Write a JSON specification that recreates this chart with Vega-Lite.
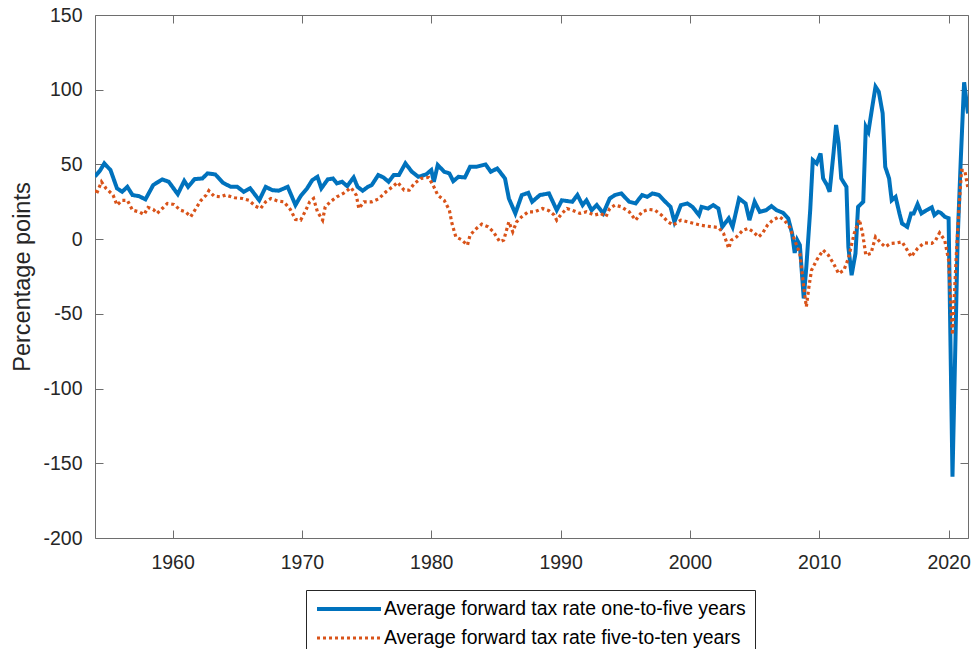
{
"$schema": "https://vega.github.io/schema/vega-lite/v6.json",
"width": 873, "height": 523,
"autosize": {"type": "none"},
"padding": {"left": 95, "top": 15, "right": 6, "bottom": 111},
"background": "white",
"config": {
  "view": {"stroke": null},
  "font": "Liberation Sans",
  "axis": {"labelFont": "Liberation Sans", "labelFontSize": 19.5, "labelColor": "#262626", "domainColor": "#6e6e6e", "tickColor": "#6e6e6e", "domainWidth": 1, "tickWidth": 1, "grid": false, "titleFont": "Liberation Sans", "titleFontWeight": "normal", "titleColor": "#262626"},
  "legend": {"orient": "none", "legendX": 211, "legendY": 575, "direction": "vertical", "title": null, "strokeColor": "#262626", "fillColor": "white", "padding": 9, "rowPadding": 9, "labelFont": "Liberation Sans", "labelFontSize": 19.4, "labelColor": "#000000", "labelOffset": 25, "labelLimit": 0, "symbolType": "M-4,0H4", "symbolSize": 256, "symbolOffset": 24, "symbolStrokeWidth": 4}
},
"data": {"values": [
{"t":1954.0,"k":"a","v":42},{"t":1954.4,"k":"a","v":46},{"t":1954.72,"k":"a","v":50.7},{"t":1955.2,"k":"a","v":46.2},{"t":1955.7,"k":"a","v":34},{"t":1956.1,"k":"a","v":31.7},{"t":1956.5,"k":"a","v":35},{"t":1956.9,"k":"a","v":29.5},{"t":1957.4,"k":"a","v":28.8},{"t":1957.9,"k":"a","v":26.6},{"t":1958.5,"k":"a","v":36.2},{"t":1959.2,"k":"a","v":40},{"t":1959.7,"k":"a","v":38.4},{"t":1960.4,"k":"a","v":30.1},{"t":1960.9,"k":"a","v":39},{"t":1961.2,"k":"a","v":35},{"t":1961.7,"k":"a","v":40.2},{"t":1962.3,"k":"a","v":40.6},{"t":1962.7,"k":"a","v":44},{"t":1963.3,"k":"a","v":43.3},{"t":1963.9,"k":"a","v":37.7},{"t":1964.5,"k":"a","v":35},{"t":1965.0,"k":"a","v":35},{"t":1965.5,"k":"a","v":31.7},{"t":1966.0,"k":"a","v":34},{"t":1966.7,"k":"a","v":26},{"t":1967.2,"k":"a","v":35},{"t":1967.7,"k":"a","v":32.8},{"t":1968.2,"k":"a","v":32.4},{"t":1968.9,"k":"a","v":35},{"t":1969.5,"k":"a","v":22.8},{"t":1969.9,"k":"a","v":28.8},{"t":1970.4,"k":"a","v":34},{"t":1970.8,"k":"a","v":39.5},{"t":1971.2,"k":"a","v":41.7},{"t":1971.5,"k":"a","v":34},{"t":1972.0,"k":"a","v":40},{"t":1972.4,"k":"a","v":40.6},{"t":1972.7,"k":"a","v":37.3},{"t":1973.1,"k":"a","v":38.4},{"t":1973.5,"k":"a","v":35.5},{"t":1974.0,"k":"a","v":41.3},{"t":1974.3,"k":"a","v":35},{"t":1974.7,"k":"a","v":32.4},{"t":1975.1,"k":"a","v":35},{"t":1975.4,"k":"a","v":36.2},{"t":1975.9,"k":"a","v":42.9},{"t":1976.3,"k":"a","v":41.3},{"t":1976.7,"k":"a","v":38.4},{"t":1977.1,"k":"a","v":42.9},{"t":1977.5,"k":"a","v":42.9},{"t":1978.0,"k":"a","v":50.7},{"t":1978.5,"k":"a","v":45.1},{"t":1979.0,"k":"a","v":41.7},{"t":1979.6,"k":"a","v":43.3},{"t":1980.0,"k":"a","v":46.2},{"t":1980.2,"k":"a","v":38.4},{"t":1980.5,"k":"a","v":49.6},{"t":1981.0,"k":"a","v":45.1},{"t":1981.4,"k":"a","v":44},{"t":1981.7,"k":"a","v":38.8},{"t":1982.1,"k":"a","v":41.7},{"t":1982.6,"k":"a","v":41.3},{"t":1983.0,"k":"a","v":48.4},{"t":1983.5,"k":"a","v":48.4},{"t":1984.2,"k":"a","v":50},{"t":1984.6,"k":"a","v":45.1},{"t":1985.1,"k":"a","v":47.3},{"t":1985.4,"k":"a","v":44},{"t":1985.7,"k":"a","v":40.6},{"t":1986.0,"k":"a","v":27.2},{"t":1986.5,"k":"a","v":17.2},{"t":1987.0,"k":"a","v":29.5},{"t":1987.5,"k":"a","v":31},{"t":1987.8,"k":"a","v":25},{"t":1988.4,"k":"a","v":29.5},{"t":1989.1,"k":"a","v":30.6},{"t":1989.7,"k":"a","v":19.4},{"t":1990.1,"k":"a","v":26},{"t":1990.9,"k":"a","v":25},{"t":1991.3,"k":"a","v":29.5},{"t":1991.7,"k":"a","v":22.8},{"t":1992.0,"k":"a","v":26},{"t":1992.4,"k":"a","v":19.4},{"t":1992.8,"k":"a","v":22.8},{"t":1993.3,"k":"a","v":17.2},{"t":1993.8,"k":"a","v":27.2},{"t":1994.2,"k":"a","v":29.5},{"t":1994.7,"k":"a","v":30.6},{"t":1995.3,"k":"a","v":25},{"t":1995.8,"k":"a","v":23.9},{"t":1996.3,"k":"a","v":29.5},{"t":1996.7,"k":"a","v":28.3},{"t":1997.1,"k":"a","v":30.6},{"t":1997.6,"k":"a","v":29.5},{"t":1998.1,"k":"a","v":25},{"t":1998.5,"k":"a","v":21.6},{"t":1998.8,"k":"a","v":11.6},{"t":1999.3,"k":"a","v":22.8},{"t":1999.8,"k":"a","v":23.9},{"t":2000.2,"k":"a","v":21.6},{"t":2000.7,"k":"a","v":16.1},{"t":2000.9,"k":"a","v":21.6},{"t":2001.4,"k":"a","v":20.5},{"t":2001.8,"k":"a","v":22.8},{"t":2002.2,"k":"a","v":20.5},{"t":2002.5,"k":"a","v":8.2},{"t":2003.0,"k":"a","v":13.9},{"t":2003.3,"k":"a","v":8.2},{"t":2003.8,"k":"a","v":27.2},{"t":2004.3,"k":"a","v":23.9},{"t":2004.6,"k":"a","v":12.7},{"t":2005.0,"k":"a","v":25},{"t":2005.4,"k":"a","v":18.3},{"t":2005.9,"k":"a","v":19.4},{"t":2006.3,"k":"a","v":22.1},{"t":2006.7,"k":"a","v":19.4},{"t":2007.2,"k":"a","v":17.6},{"t":2007.6,"k":"a","v":13.9},{"t":2007.9,"k":"a","v":3.8},{"t":2008.1,"k":"a","v":-9.2},{"t":2008.3,"k":"a","v":-0.7},{"t":2008.5,"k":"a","v":-4},{"t":2008.8,"k":"a","v":-39.7},{"t":2009.0,"k":"a","v":-18.5},{"t":2009.3,"k":"a","v":19.4},{"t":2009.5,"k":"a","v":52.9},{"t":2009.8,"k":"a","v":50.7},{"t":2010.1,"k":"a","v":57.4},{"t":2010.3,"k":"a","v":40.6},{"t":2010.6,"k":"a","v":36.2},{"t":2010.8,"k":"a","v":31.7},{"t":2011.1,"k":"a","v":57.4},{"t":2011.3,"k":"a","v":76.4},{"t":2011.5,"k":"a","v":64.1},{"t":2011.7,"k":"a","v":40.6},{"t":2012.1,"k":"a","v":35},{"t":2012.25,"k":"a","v":-5.2},{"t":2012.5,"k":"a","v":-24.1},{"t":2012.8,"k":"a","v":-9.6},{"t":2013.0,"k":"a","v":21.6},{"t":2013.4,"k":"a","v":25},{"t":2013.6,"k":"a","v":75.2},{"t":2013.8,"k":"a","v":71.9},{"t":2014.1,"k":"a","v":88.6},{"t":2014.35,"k":"a","v":102},{"t":2014.6,"k":"a","v":98.7},{"t":2014.9,"k":"a","v":84.2},{"t":2015.1,"k":"a","v":48.4},{"t":2015.4,"k":"a","v":40.6},{"t":2015.6,"k":"a","v":26},{"t":2015.9,"k":"a","v":28.3},{"t":2016.2,"k":"a","v":17.2},{"t":2016.4,"k":"a","v":10.5},{"t":2016.8,"k":"a","v":8.2},{"t":2017.1,"k":"a","v":17.2},{"t":2017.3,"k":"a","v":17.2},{"t":2017.6,"k":"a","v":23.4},{"t":2017.9,"k":"a","v":17.2},{"t":2018.3,"k":"a","v":19.4},{"t":2018.7,"k":"a","v":21.2},{"t":2018.9,"k":"a","v":16.1},{"t":2019.2,"k":"a","v":18.3},{"t":2019.4,"k":"a","v":17.6},{"t":2019.7,"k":"a","v":15},{"t":2020.0,"k":"a","v":14},{"t":2020.3,"k":"a","v":-159},{"t":2020.55,"k":"a","v":-60},{"t":2020.7,"k":"a","v":0},{"t":2020.95,"k":"a","v":55},{"t":2021.2,"k":"a","v":105},{"t":2021.5,"k":"a","v":84},
{"t":1954.0,"k":"b","v":33},{"t":1954.1,"k":"b","v":30},{"t":1954.5,"k":"b","v":38.4},{"t":1954.85,"k":"b","v":34},{"t":1955.4,"k":"b","v":29.5},{"t":1955.7,"k":"b","v":22.8},{"t":1956.1,"k":"b","v":26},{"t":1956.5,"k":"b","v":26},{"t":1956.9,"k":"b","v":19.4},{"t":1957.4,"k":"b","v":18.3},{"t":1957.8,"k":"b","v":16.5},{"t":1958.1,"k":"b","v":21.2},{"t":1958.5,"k":"b","v":19.9},{"t":1958.8,"k":"b","v":17.2},{"t":1959.2,"k":"b","v":20.5},{"t":1959.6,"k":"b","v":23.9},{"t":1960.1,"k":"b","v":23.2},{"t":1960.6,"k":"b","v":19.4},{"t":1961.0,"k":"b","v":18.3},{"t":1961.4,"k":"b","v":15},{"t":1961.8,"k":"b","v":20.5},{"t":1962.2,"k":"b","v":26},{"t":1962.6,"k":"b","v":29.5},{"t":1962.8,"k":"b","v":32.4},{"t":1963.2,"k":"b","v":28.8},{"t":1963.7,"k":"b","v":28.3},{"t":1964.1,"k":"b","v":29.5},{"t":1964.8,"k":"b","v":27.7},{"t":1965.4,"k":"b","v":27.2},{"t":1965.9,"k":"b","v":26},{"t":1966.4,"k":"b","v":22.1},{"t":1966.8,"k":"b","v":20.5},{"t":1967.2,"k":"b","v":25},{"t":1967.6,"k":"b","v":27.2},{"t":1968.1,"k":"b","v":25.6},{"t":1968.6,"k":"b","v":25},{"t":1969.1,"k":"b","v":19.9},{"t":1969.5,"k":"b","v":13.2},{"t":1969.9,"k":"b","v":12.7},{"t":1970.3,"k":"b","v":19.4},{"t":1970.6,"k":"b","v":25},{"t":1970.9,"k":"b","v":27.2},{"t":1971.2,"k":"b","v":18.3},{"t":1971.6,"k":"b","v":12.7},{"t":1971.8,"k":"b","v":21.6},{"t":1972.2,"k":"b","v":25},{"t":1972.7,"k":"b","v":28.3},{"t":1973.2,"k":"b","v":30.6},{"t":1973.8,"k":"b","v":34.4},{"t":1974.2,"k":"b","v":29.5},{"t":1974.4,"k":"b","v":20.5},{"t":1974.8,"k":"b","v":25},{"t":1975.4,"k":"b","v":25},{"t":1975.9,"k":"b","v":26.8},{"t":1976.5,"k":"b","v":31.7},{"t":1977.0,"k":"b","v":35},{"t":1977.4,"k":"b","v":38},{"t":1977.9,"k":"b","v":32.8},{"t":1978.3,"k":"b","v":32.8},{"t":1978.7,"k":"b","v":37.3},{"t":1979.2,"k":"b","v":40.6},{"t":1979.8,"k":"b","v":41.3},{"t":1980.2,"k":"b","v":35},{"t":1980.5,"k":"b","v":29.5},{"t":1981.0,"k":"b","v":26},{"t":1981.4,"k":"b","v":19.4},{"t":1981.6,"k":"b","v":10.5},{"t":1981.9,"k":"b","v":1.5},{"t":1982.3,"k":"b","v":-0.2},{"t":1982.8,"k":"b","v":-4},{"t":1983.0,"k":"b","v":2.7},{"t":1983.5,"k":"b","v":7.2},{"t":1983.9,"k":"b","v":10},{"t":1984.4,"k":"b","v":8.2},{"t":1984.8,"k":"b","v":4.9},{"t":1985.3,"k":"b","v":-1.8},{"t":1985.6,"k":"b","v":-0.7},{"t":1986.0,"k":"b","v":11.6},{"t":1986.3,"k":"b","v":4.9},{"t":1986.6,"k":"b","v":11.6},{"t":1987.0,"k":"b","v":15},{"t":1987.5,"k":"b","v":18.3},{"t":1988.0,"k":"b","v":18.3},{"t":1988.6,"k":"b","v":20.5},{"t":1989.1,"k":"b","v":19},{"t":1989.5,"k":"b","v":16.1},{"t":1989.7,"k":"b","v":12.7},{"t":1990.1,"k":"b","v":17.2},{"t":1990.5,"k":"b","v":20.5},{"t":1991.0,"k":"b","v":19},{"t":1991.5,"k":"b","v":17.2},{"t":1992.0,"k":"b","v":18.3},{"t":1992.6,"k":"b","v":16.1},{"t":1993.1,"k":"b","v":17.2},{"t":1993.5,"k":"b","v":15},{"t":1993.8,"k":"b","v":20.5},{"t":1994.2,"k":"b","v":22.8},{"t":1994.7,"k":"b","v":21.6},{"t":1995.3,"k":"b","v":18.3},{"t":1995.8,"k":"b","v":12.7},{"t":1996.3,"k":"b","v":18.3},{"t":1996.8,"k":"b","v":19.9},{"t":1997.3,"k":"b","v":19.4},{"t":1997.8,"k":"b","v":16.1},{"t":1998.3,"k":"b","v":11.6},{"t":1998.7,"k":"b","v":9.4},{"t":1999.3,"k":"b","v":12.7},{"t":1999.8,"k":"b","v":11.6},{"t":2000.3,"k":"b","v":10.5},{"t":2000.8,"k":"b","v":9.4},{"t":2001.3,"k":"b","v":8.7},{"t":2001.8,"k":"b","v":8.2},{"t":2002.2,"k":"b","v":7.8},{"t":2002.6,"k":"b","v":3.8},{"t":2003.0,"k":"b","v":-6.2},{"t":2003.2,"k":"b","v":-0.7},{"t":2003.6,"k":"b","v":1.5},{"t":2004.1,"k":"b","v":6},{"t":2004.5,"k":"b","v":7.2},{"t":2004.9,"k":"b","v":4.9},{"t":2005.3,"k":"b","v":1.5},{"t":2005.6,"k":"b","v":3.8},{"t":2006.0,"k":"b","v":9.4},{"t":2006.4,"k":"b","v":12.7},{"t":2006.9,"k":"b","v":15},{"t":2007.3,"k":"b","v":12.7},{"t":2007.7,"k":"b","v":8.2},{"t":2008.1,"k":"b","v":-0.7},{"t":2008.5,"k":"b","v":-9.6},{"t":2008.8,"k":"b","v":-32},{"t":2009.0,"k":"b","v":-45.3},{"t":2009.2,"k":"b","v":-32},{"t":2009.4,"k":"b","v":-20.8},{"t":2009.8,"k":"b","v":-14},{"t":2010.3,"k":"b","v":-7.4},{"t":2010.7,"k":"b","v":-10.7},{"t":2011.1,"k":"b","v":-16.3},{"t":2011.5,"k":"b","v":-23},{"t":2011.9,"k":"b","v":-20.8},{"t":2012.25,"k":"b","v":-12.9},{"t":2012.7,"k":"b","v":3.8},{"t":2013.1,"k":"b","v":13.2},{"t":2013.35,"k":"b","v":3.8},{"t":2013.6,"k":"b","v":-10.7},{"t":2014.0,"k":"b","v":-9.6},{"t":2014.35,"k":"b","v":1.5},{"t":2014.8,"k":"b","v":-2.9},{"t":2015.1,"k":"b","v":-5.2},{"t":2015.5,"k":"b","v":-2.9},{"t":2016.0,"k":"b","v":-2.5},{"t":2016.4,"k":"b","v":-1.8},{"t":2016.8,"k":"b","v":-7.4},{"t":2017.1,"k":"b","v":-11.8},{"t":2017.6,"k":"b","v":-6.2},{"t":2018.1,"k":"b","v":-2.5},{"t":2018.7,"k":"b","v":-2.9},{"t":2019.0,"k":"b","v":-0.7},{"t":2019.3,"k":"b","v":4.2},{"t":2019.7,"k":"b","v":-0.7},{"t":2020.0,"k":"b","v":-14},{"t":2020.3,"k":"b","v":-64},{"t":2020.6,"k":"b","v":-10},{"t":2020.8,"k":"b","v":20},{"t":2021.0,"k":"b","v":46},{"t":2021.25,"k":"b","v":46},{"t":2021.5,"k":"b","v":34}
]},
"layer": [
  {
    "mark": {"type": "line", "clip": true},
    "encoding": {
      "x": {"field": "t", "type": "quantitative", "scale": {"domain": [1954, 2021.5], "nice": false, "zero": false},
            "axis": {"orient": "bottom", "title": null, "values": [1960, 1970, 1980, 1990, 2000, 2010, 2020], "labelExpr": "toString(datum.value)", "tickSize": -8, "labelPadding": 23}},
      "y": {"field": "v", "type": "quantitative", "scale": {"domain": [-200, 150], "nice": false, "zero": false},
            "axis": {"orient": "left", "title": "Percentage points", "titleFontSize": 23.5, "values": [-200, -150, -100, -50, 0, 50, 100, 150], "labelExpr": "toString(datum.value)", "tickSize": -8, "labelPadding": 21, "titlePadding": 8}},
      "color": {"field": "k", "type": "nominal", "scale": {"domain": ["a", "b"], "range": ["#0072BD", "#D95319"]},
                "legend": {"labelExpr": "datum.label == 'a' ? 'Average forward tax rate one-to-five years' : 'Average forward tax rate five-to-ten years'"}},
      "strokeDash": {"field": "k", "type": "nominal", "scale": {"domain": ["a", "b"], "range": [[1, 0], [3, 3]]},
                "legend": {"labelExpr": "datum.label == 'a' ? 'Average forward tax rate one-to-five years' : 'Average forward tax rate five-to-ten years'"}},
      "strokeWidth": {"field": "k", "type": "ordinal", "scale": {"domain": ["a", "b"], "range": [4, 3.2]}, "legend": null}
    }
  },
  {
    "mark": {"type": "line", "strokeOpacity": 0},
    "encoding": {
      "x": {"field": "t", "type": "quantitative", "scale": {"domain": [1954, 2021.5], "nice": false, "zero": false},
            "axis": {"orient": "top", "title": null, "labels": false, "values": [1960, 1970, 1980, 1990, 2000, 2010, 2020], "tickSize": -8}},
      "y": {"field": "v", "type": "quantitative", "scale": {"domain": [-200, 150], "nice": false, "zero": false},
            "axis": {"orient": "right", "title": null, "labels": false, "values": [-200, -150, -100, -50, 0, 50, 100, 150], "tickSize": -8}},
      "detail": {"field": "k"}
    }
  }
],
"resolve": {"scale": {"x": "independent", "y": "independent"}}
}
